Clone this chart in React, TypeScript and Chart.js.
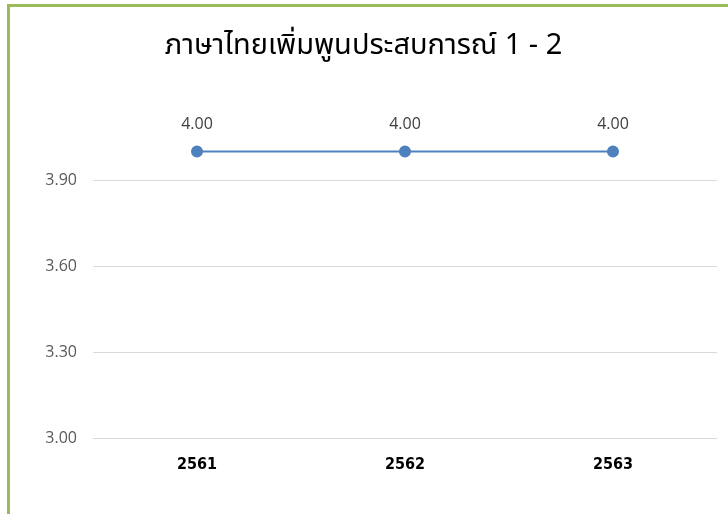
import React, { useEffect, useRef } from "react";
import { Chart, registerables } from "chart.js";

Chart.register(...registerables);

const title = "ภาษาไทยเพิ่มพูนประสบการณ์ 1 - 2";
const categories = ["2561", "2562", "2563"];
const values = [4.0, 4.0, 4.0];
const yTicks = [3.0, 3.3, 3.6, 3.9];
const yMin = 3.0;
const yMax = 4.1;

const dataLabels = {
  id: "dataLabels",
  afterDatasetsDraw(chart: any) {
    const ctx = chart.ctx;
    ctx.save();
    ctx.font = "16px 'Open Sans', 'Noto Sans', sans-serif";
    ctx.fillStyle = "#404040";
    ctx.textAlign = "center";
    ctx.textBaseline = "middle";
    chart.data.datasets.forEach((ds: any, i: number) => {
      const meta = chart.getDatasetMeta(i);
      meta.data.forEach((pt: any, j: number) => {
        ctx.fillText(Number(ds.data[j]).toFixed(2), pt.x, pt.y - 27);
      });
    });
    ctx.restore();
  },
};

export default function App() {
  const ref = useRef<HTMLCanvasElement>(null);
  useEffect(() => {
    if (!ref.current) return;
    const chart = new Chart(ref.current, {
      type: "line",
      data: {
        labels: categories,
        datasets: [
          {
            data: values,
            borderColor: "#4f81bd",
            backgroundColor: "#4f81bd",
            borderWidth: 2,
            pointRadius: 5,
            pointHoverRadius: 5,
            pointBackgroundColor: "#4f81bd",
            pointBorderColor: "#4f81bd",
            clip: false as any,
          },
        ],
      },
      options: {
        animation: false,
        responsive: false,
        layout: { padding: { left: 0, right: 11, top: 0, bottom: 0 } },
        plugins: {
          legend: { display: false },
          tooltip: { enabled: false },
          title: {
            display: true,
            text: title,
            color: "#000000",
            font: { size: 29, weight: "normal", family: "'Noto Sans Thai', Tahoma, 'DejaVu Sans', sans-serif" },
            padding: { top: 24, bottom: 57 },
          },
        },
        scales: {
          x: {
            offset: true,
            grid: { display: false, drawTicks: false },
            border: { display: false },
            ticks: {
              color: "#000000",
              padding: 17,
              font: { size: 16, weight: "bold", family: "'DejaVu Sans Condensed', 'DejaVu Sans', sans-serif" },
            },
            afterFit: (s: any) => {
              s.height = 76;
            },
          },
          y: {
            min: yMin,
            max: yMax,
            grid: { color: "#d9d9d9", drawTicks: false, lineWidth: 1 },
            border: { display: false },
            ticks: {
              color: "#595959",
              padding: 16,
              font: { size: 16, family: "'Open Sans', 'Noto Sans', sans-serif" },
              callback: (v: any) => Number(v).toFixed(2),
            },
            afterBuildTicks: (axis: any) => {
              axis.ticks = yTicks.map((v) => ({ value: v }));
            },
            afterFit: (s: any) => {
              s.width = 83;
            },
          },
        },
      },
      plugins: [dataLabels],
    });
    return () => chart.destroy();
  }, []);

  return (
    <div style={{ position: "fixed", left: 0, top: 0, width: 728, height: 514, overflow: "hidden", background: "#ffffff" }}>
      <div
        style={{
          position: "absolute",
          left: 7,
          top: 4,
          width: 740,
          height: 540,
          border: "3px solid #9bbb59",
          boxSizing: "border-box",
          background: "#ffffff",
        }}
      />
      <canvas ref={ref} width={718} height={507} style={{ position: "absolute", left: 10, top: 7, display: "block" }} />
    </div>
  );
}
